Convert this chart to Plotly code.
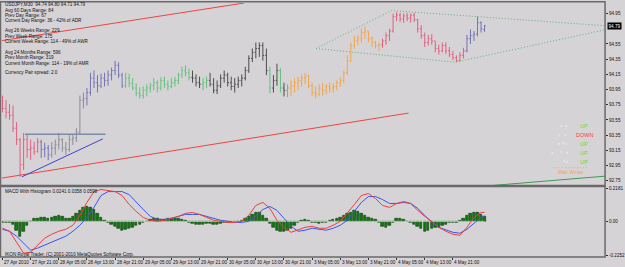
import plotly.graph_objects as go

W, H = 625, 267

# ---------------- data ----------------
symbol_title = "USDJPY,M30  94.74 94.80 94.71 94.79"
info_lines = [
    (symbol_title, 4),
    ("Avg 60 Days Range: 84", 10),
    ("Prev Day Range: 67", 14.7),
    ("Current Day Range: 36 - 42% of ADR", 19.3),
    ("Avg 26 Weeks Range: 229", 30),
    ("Prev Week Range: 175", 35.3),
    ("Current Week Range: 114 - 49% of AWR", 41.3),
    ("Avg 24 Months Range: 596", 52.3),
    ("Prev Month Range: 319", 57),
    ("Current Month Range: 114 - 19% of AMR", 62.7),
    ("Currency Pair spread: 2.0", 72),
]

time_labels = ["27 Apr 2010", "27 Apr 21:00", "28 Apr 05:00", "28 Apr 13:00", "28 Apr 21:00",
               "29 Apr 05:00", "29 Apr 13:00", "29 Apr 21:00", "30 Apr 05:00", "30 Apr 13:00",
               "30 Apr 21:00", "3 May 05:00", "3 May 13:00", "3 May 21:00", "4 May 05:00",
               "4 May 13:00", "4 May 21:00"]
bars_per_label = 8

bar_open = [93.81, 93.70, 93.65, 93.61, 93.44, 93.29, 92.96, 93.29, 93.16, 93.18,
            93.13, 93.26, 93.16, 93.18, 93.09, 93.18, 93.22, 93.29, 93.18, 93.16,
            93.29, 93.31, 93.39, 93.81, 93.83, 93.91, 94.10, 94.04, 94.00, 94.10,
            94.07, 94.14, 94.20, 94.27, 94.14, 94.00, 94.10, 94.03, 93.97, 93.90,
            93.87, 93.94, 93.97, 94.00, 94.04, 93.97, 94.07, 94.02, 93.99, 94.04,
            94.07, 94.14, 94.20, 94.17, 94.11, 94.10, 94.04, 94.02, 94.04, 94.07,
            94.02, 93.94, 94.00, 94.10, 94.14, 94.04, 93.99, 94.02, 94.07, 94.10,
            94.20, 94.36, 94.44, 94.49, 94.53, 94.40, 94.20, 93.97, 94.07, 94.20,
            93.97, 93.94, 93.97, 94.00, 94.04, 94.07, 94.10, 94.12, 94.00, 93.91,
            93.89, 93.97, 93.94, 93.99, 93.97, 93.99, 94.04, 94.07, 94.17, 94.33,
            94.53, 94.59, 94.62, 94.70, 94.72, 94.62, 94.57, 94.53, 94.54, 94.59,
            94.66, 94.72, 94.91, 94.93, 94.88, 94.92, 94.89, 94.93, 94.87, 94.75,
            94.66, 94.57, 94.62, 94.59, 94.49, 94.46, 94.53, 94.46, 94.41, 94.37,
            94.33, 94.40, 94.46, 94.62, 94.66, 94.68, 94.83, 94.74]
bar_high = [93.87, 93.81, 93.76, 93.74, 93.52, 93.31, 93.38, 93.36, 93.29, 93.26,
            93.31, 93.29, 93.25, 93.22, 93.26, 93.29, 93.38, 93.31, 93.26, 93.35,
            93.35, 93.44, 93.87, 93.91, 93.97, 94.17, 94.20, 94.14, 94.16, 94.17,
            94.20, 94.24, 94.33, 94.31, 94.17, 94.17, 94.16, 94.10, 94.03, 93.98,
            93.99, 94.02, 94.04, 94.10, 94.07, 94.11, 94.12, 94.07, 94.10, 94.12,
            94.17, 94.25, 94.27, 94.23, 94.20, 94.15, 94.12, 94.10, 94.12, 94.17,
            94.10, 94.07, 94.15, 94.20, 94.17, 94.12, 94.10, 94.12, 94.15, 94.25,
            94.40, 94.49, 94.57, 94.57, 94.57, 94.49, 94.25, 94.14, 94.29, 94.23,
            94.04, 94.02, 94.07, 94.10, 94.12, 94.15, 94.17, 94.15, 94.04, 93.99,
            94.02, 94.04, 94.02, 94.04, 94.03, 94.07, 94.11, 94.20, 94.40, 94.57,
            94.66, 94.67, 94.75, 94.78, 94.72, 94.65, 94.59, 94.57, 94.62, 94.70,
            94.75, 94.95, 94.97, 94.96, 94.95, 94.96, 94.95, 94.96, 94.88, 94.80,
            94.70, 94.67, 94.68, 94.59, 94.54, 94.57, 94.57, 94.51, 94.46, 94.40,
            94.44, 94.50, 94.67, 94.74, 94.72, 94.91, 94.85, 94.80]
bar_low = [93.65, 93.57, 93.55, 93.39, 93.22, 92.80, 92.89, 93.05, 93.02, 93.09,
           93.12, 93.05, 93.06, 93.02, 93.05, 93.09, 93.16, 93.13, 93.09, 93.13,
           93.22, 93.26, 93.35, 93.70, 93.74, 93.87, 93.97, 93.91, 93.97, 93.99,
           94.00, 94.07, 94.14, 94.10, 93.97, 93.97, 93.98, 93.94, 93.86, 93.83,
           93.83, 93.86, 93.91, 93.94, 93.91, 93.94, 93.97, 93.94, 93.97, 93.99,
           94.02, 94.10, 94.12, 94.07, 94.04, 93.99, 93.97, 93.94, 93.97, 93.99,
           93.90, 93.89, 93.97, 94.04, 93.99, 93.94, 93.91, 93.97, 93.99, 94.07,
           94.17, 94.31, 94.36, 94.38, 94.33, 94.14, 93.90, 93.91, 94.00, 93.91,
           93.86, 93.85, 93.87, 93.91, 93.94, 93.99, 94.02, 93.97, 93.86, 93.83,
           93.86, 93.87, 93.89, 93.91, 93.91, 93.94, 93.99, 94.03, 94.14, 94.31,
           94.49, 94.53, 94.57, 94.62, 94.57, 94.51, 94.49, 94.46, 94.50, 94.54,
           94.59, 94.70, 94.85, 94.84, 94.83, 94.85, 94.83, 94.84, 94.70, 94.62,
           94.51, 94.53, 94.54, 94.44, 94.41, 94.44, 94.42, 94.38, 94.34, 94.31,
           94.32, 94.36, 94.44, 94.55, 94.59, 94.65, 94.70, 94.71]
bar_close = [93.70, 93.65, 93.61, 93.44, 93.29, 92.96, 93.29, 93.16, 93.18, 93.13,
             93.26, 93.16, 93.18, 93.09, 93.18, 93.22, 93.29, 93.18, 93.16, 93.29,
             93.31, 93.39, 93.81, 93.83, 93.91, 94.10, 94.04, 94.00, 94.10, 94.07,
             94.14, 94.20, 94.27, 94.14, 94.00, 94.10, 94.03, 93.97, 93.90, 93.87,
             93.94, 93.97, 94.00, 94.04, 93.97, 94.07, 94.02, 93.99, 94.04, 94.07,
             94.14, 94.20, 94.17, 94.11, 94.10, 94.04, 94.02, 94.04, 94.07, 94.02,
             93.94, 94.00, 94.10, 94.14, 94.04, 93.99, 94.02, 94.07, 94.10, 94.20,
             94.36, 94.44, 94.49, 94.53, 94.40, 94.20, 93.97, 94.07, 94.20, 93.97,
             93.94, 93.97, 94.00, 94.04, 94.07, 94.10, 94.12, 94.00, 93.91, 93.89,
             93.97, 93.94, 93.99, 93.97, 93.99, 94.04, 94.07, 94.17, 94.33, 94.53,
             94.59, 94.62, 94.70, 94.72, 94.62, 94.57, 94.53, 94.54, 94.59, 94.66,
             94.72, 94.91, 94.93, 94.88, 94.92, 94.89, 94.93, 94.87, 94.75, 94.66,
             94.57, 94.62, 94.59, 94.49, 94.46, 94.53, 94.46, 94.41, 94.37, 94.33,
             94.40, 94.46, 94.62, 94.66, 94.68, 94.83, 94.75, 94.79]

# bar colour groups (start bar, end bar exclusive, colour key)
bar_groups = [(0, 11, "pink"), (11, 14, "slate"), (14, 24, "grey"), (24, 35, "slate"),
              (35, 54, "green"), (54, 57, "dark"), (57, 59, "green"), (59, 76, "dark"),
              (76, 77, "green"), (77, 79, "dark"), (79, 80, "green"), (80, 81, "dark"),
              (81, 82, "green"), (82, 108, "orange"), (108, 132, "pink"), (132, 138, "slate")]

macd_main = [-0.046, -0.066, -0.139, -0.212, -0.205, -0.159, -0.112, -0.086, -0.066, -0.053,
             -0.026, 0.040, 0.126, 0.198, 0.212, 0.205, 0.198, 0.172, 0.112, 0.066,
             0.026, 0.007, 0.0, 0.007, 0.020, 0.033, 0.053, 0.059, 0.046, 0.026,
             0.007, 0.0, -0.007, -0.007, 0.0, 0.040, 0.106, 0.126, 0.086, 0.007,
             -0.040, -0.073, -0.059, -0.040, -0.033, -0.046, -0.046, -0.026, 0.0, 0.053,
             0.112, 0.172, 0.185, 0.152, 0.106, 0.093, 0.119, 0.132, 0.119, 0.073,
             0.033, 0.0, -0.040, -0.066, -0.086, -0.093, -0.040, 0.026, 0.059, 0.060]
macd_signal = [-0.053, -0.066, -0.099, -0.145, -0.192, -0.178, -0.159, -0.139, -0.119, -0.099,
               -0.066, -0.026, 0.026, 0.093, 0.172, 0.198, 0.198, 0.198, 0.178, 0.126,
               0.079, 0.033, 0.013, 0.013, 0.020, 0.033, 0.046, 0.046, 0.046, 0.033,
               0.020, 0.007, 0.0, -0.007, -0.007, 0.0, 0.033, 0.079, 0.099, 0.073,
               0.020, -0.033, -0.066, -0.059, -0.046, -0.053, -0.059, -0.046, -0.026, 0.007,
               0.066, 0.126, 0.165, 0.165, 0.145, 0.119, 0.119, 0.126, 0.119, 0.086,
               0.040, -0.007, -0.040, -0.059, -0.073, -0.079, -0.053, -0.013, 0.026, 0.036]
macd_hist = [-0.005, -0.005, -0.005, -0.02, -0.06, -0.10, -0.07, -0.03, 0.0, 0.015,
             0.02, 0.025, 0.025, 0.02, 0.025, 0.03, 0.035, 0.03, 0.02, 0.015,
             0.03, 0.05, 0.07, 0.09, 0.095, 0.09, 0.075, 0.05, 0.025, 0.005,
             -0.005, -0.02, -0.035, -0.05, -0.06, -0.055, -0.05, -0.04, -0.03, -0.02,
             -0.01, 0.0, 0.01, 0.015, 0.015, 0.01, 0.01, 0.015, 0.02, 0.02,
             0.015, 0.01, 0.005, -0.005, -0.015, -0.02, -0.02, -0.02, -0.015, -0.015,
             -0.02, -0.02, -0.015, -0.01, -0.01, -0.01, -0.005, 0.0, 0.005, 0.015,
             0.03, 0.045, 0.06, 0.06, 0.04, 0.015, -0.015, -0.04, -0.06, -0.07,
             -0.07, -0.06, -0.045, -0.03, -0.01, 0.005, 0.01, 0.005, -0.005, -0.01,
             -0.015, -0.01, -0.005, 0.005, 0.01, 0.015, 0.025, 0.04, 0.05, 0.06,
             0.07, 0.065, 0.05, 0.035, 0.025, 0.02, 0.01, -0.01, -0.035, -0.04,
             -0.03, -0.01, 0.015, 0.02, 0.01, 0.0, -0.01, -0.02, -0.035, -0.05,
             -0.065, -0.06, -0.05, -0.04, -0.04, -0.03, -0.02, -0.01, -0.005, -0.005,
             0.005, 0.02, 0.04, 0.05, 0.055, 0.06, 0.045, 0.03]
macd_header = "MACD With Histogram 0.0241 0.0358 0.0598"
copyright_text = "IKON Royal Trader, (C) 2001-2010 MetaQuotes Software Corp."

price_ticks = [94.95, 94.55, 94.35, 94.15, 93.95, 93.75, 93.55, 93.35, 93.15, 92.95, 92.75]
last_price = 94.79
macd_ticks = [0.2181, 0.0, -0.2252]
macd_tick_text = ["0.2181", "0.00", "-0.2252"]

# trend lines: (bar positions, prices)
upper_red_line = ([-0.7, 68.7], [94.59, 95.09])
lower_red_line = ([-0.7, 115.4], [92.78, 93.64])
support_line = ([5.5, 28.5], [92.80, 93.30])
resistance_line = ([6.4, 29.3], [93.36, 93.36])
wedge_upper = ([89.1, 110.6, 171.5], [94.49, 94.99, 94.79])
wedge_lower = ([89.1, 128.7, 171.5], [94.49, 94.31, 94.74])
green_line = ([132.4, 171.5], [92.66, 92.81])
orange_dots = ([156.5, 166.4], [92.92, 92.92])

signal_words = [("UP", "up"), ("DOWN", "down"), ("UP", "up"), ("UP", "up"), ("UP", "up")]
status_text = "Wait Wmas"

# ---------------- styles / layout helpers ----------------
BG = "#d6d3d6"
FRAME = "#6a6a6a"
FONT = "Liberation Sans"
COLORS = {"pink": "#e2607f", "slate": "#7474b4", "grey": "#8c8c9a", "green": "#62c27e",
          "dark": "#4e4e4e", "orange": "#f2a64a"}

PLOT_L, PLOT_R = 2, 607
MAIN_T, MAIN_B = 2, 186
MACD_T, MACD_B = 188, 258
PX_PER_BAR = 3.53
BAR0_PX = 2.5
PX_PER_PRICE = 76.5
PRICE_AT_TICK = 94.95
PRICE_TICK_PX = 12.7
# tiny light marks beside the signal words (pixel positions, decoration)
SIGNAL_DOTS = [(563, 126), (568, 126), (561, 135), (567, 135), (561, 144), (565, 143),
               (568, 144), (554, 153), (563, 152), (569, 153), (566, 161), (569, 162)]


def fx(p):
    return p / W


def fy(p):
    return 1 - p / H


def bar_px(i):
    return BAR0_PX + i * PX_PER_BAR


x_range = [(PLOT_L - BAR0_PX) / PX_PER_BAR, (PLOT_R - BAR0_PX) / PX_PER_BAR]
y_range = [PRICE_AT_TICK - (MAIN_B - PRICE_TICK_PX) / PX_PER_PRICE,
           PRICE_AT_TICK + (PRICE_TICK_PX - MAIN_T) / PX_PER_PRICE]
MACD_ZERO_PX = 222
MACD_PX_PER_UNIT = 33 / 0.2181
macd_range = [-(MACD_B - MACD_ZERO_PX) / MACD_PX_PER_UNIT, (MACD_ZERO_PX - MACD_T) / MACD_PX_PER_UNIT]

n_bars = len(bar_close)
bar_idx = list(range(n_bars))
macd_idx = list(range(0, n_bars - 1, 2)) + [n_bars - 1]

fig = go.Figure()

# price bars
for start, end, key in bar_groups:
    c = COLORS[key]
    fig.add_trace(go.Ohlc(
        x=bar_idx[start:end], open=bar_open[start:end], high=bar_high[start:end],
        low=bar_low[start:end], close=bar_close[start:end],
        increasing=dict(line=dict(color=c, width=1)),
        decreasing=dict(line=dict(color=c, width=1)),
        tickwidth=0.35, xaxis="x", yaxis="y", hoverinfo="skip"))


def add_line(pts, color, width=1, dash="solid", xa="x", ya="y"):
    fig.add_trace(go.Scatter(x=pts[0], y=pts[1], mode="lines",
                             line=dict(color=color, width=width, dash=dash),
                             xaxis=xa, yaxis=ya, hoverinfo="skip", cliponaxis=True))


add_line(upper_red_line, "#ee4444", 1)
add_line(lower_red_line, "#ee4444", 1)
add_line(support_line, "#3c46c8", 1)
add_line(resistance_line, "#7d8aa8", 1.5)
add_line(wedge_upper, "#5fb27a", 1, "1px,2px")
add_line(wedge_lower, "#5fb27a", 1, "1px,2px")
add_line(green_line, "#3f9a55", 1)
add_line(orange_dots, "#f2a64a", 1, "1px,2px")

# MACD panel
fig.add_trace(go.Scatter(x=[bar_idx[0], bar_idx[-1]], y=[0, 0], mode="lines",
                         line=dict(color="#a4d6a4", width=1), xaxis="x2", yaxis="y2",
                         hoverinfo="skip"))
fig.add_trace(go.Bar(x=bar_idx, y=macd_hist, width=0.7, marker=dict(color="#137a13",
                     line=dict(color="#073807", width=0.6)), xaxis="x2", yaxis="y2",
                     hoverinfo="skip"))
fig.add_trace(go.Scatter(x=macd_idx, y=macd_signal, mode="lines",
                         line=dict(color="#3a55f0", width=1), xaxis="x2", yaxis="y2",
                         hoverinfo="skip"))
fig.add_trace(go.Scatter(x=macd_idx, y=macd_main, mode="lines",
                         line=dict(color="#f03c3c", width=1), xaxis="x2", yaxis="y2",
                         hoverinfo="skip"))

axis_common = dict(showgrid=False, zeroline=False, showline=False)
fig.update_layout(
    width=W, height=H, margin=dict(l=0, r=0, t=0, b=0),
    paper_bgcolor=BG, plot_bgcolor=BG, showlegend=False, bargap=0,
    font=dict(family=FONT, size=5, color="#111111"),
    xaxis=dict(domain=[fx(PLOT_L), fx(PLOT_R)], range=x_range, showticklabels=False,
               rangeslider=dict(visible=False), anchor="y", **axis_common),
    yaxis=dict(domain=[fy(MAIN_B), fy(MAIN_T)], range=y_range, side="right",
               tickvals=price_ticks, ticktext=[f"{v:.2f}" for v in price_ticks],
               ticks="outside", ticklen=2, tickcolor="#333333", tickwidth=1,
               tickfont=dict(size=4.6, color="#111111", family=FONT), anchor="x", **axis_common),
    xaxis2=dict(domain=[fx(PLOT_L), fx(PLOT_R)], range=x_range, showticklabels=False,
                tickvals=[k * bars_per_label for k in range(len(time_labels))],
                ticks="outside", ticklen=2, tickcolor="#333333", anchor="y2", **axis_common),
    yaxis2=dict(domain=[fy(MACD_B), fy(MACD_T)], range=macd_range, side="right",
                tickvals=macd_ticks, ticktext=macd_tick_text, ticks="outside", ticklen=2,
                tickcolor="#333333", tickfont=dict(size=4.6, color="#111111", family=FONT),
                anchor="x2", **axis_common),
)

# frames
shapes = [
    dict(type="rect", xref="paper", yref="paper", x0=fx(0.5), x1=fx(PLOT_R), y0=fy(MAIN_B),
         y1=fy(0.8), line=dict(color=FRAME, width=1.5)),
    dict(type="rect", xref="paper", yref="paper", x0=fx(0.5), x1=fx(PLOT_R), y0=fy(MACD_B),
         y1=fy(MACD_T - 1), line=dict(color=FRAME, width=1.5)),
]
for dx, dy in SIGNAL_DOTS:
    shapes.append(dict(type="rect", xref="paper", yref="paper", x0=fx(dx - 0.6), x1=fx(dx + 0.6),
                       y0=fy(dy + 0.6), y1=fy(dy - 0.6), line=dict(width=0),
                       fillcolor="#f6f6f6"))
fig.update_layout(shapes=shapes)

ann = []
for text, ypx in info_lines:
    ann.append(dict(text=text, x=fx(3), y=fy(ypx), xref="paper", yref="paper",
                    xanchor="left", yanchor="middle", showarrow=False,
                    font=dict(size=4.6, color="#111111", family=FONT)))
ann.append(dict(text=macd_header, x=fx(3), y=fy(191.5), xref="paper", yref="paper",
                xanchor="left", yanchor="middle", showarrow=False,
                font=dict(size=4.6, color="#111111", family=FONT)))
ann.append(dict(text=copyright_text, x=fx(3), y=fy(255), xref="paper", yref="paper",
                xanchor="left", yanchor="middle", showarrow=False,
                font=dict(size=4.6, color="#111111", family=FONT)))
for k, lab in enumerate(time_labels):
    ann.append(dict(text=lab, x=fx(bar_px(k * bars_per_label) - 0.5), y=fy(263.5),
                    xref="paper", yref="paper",
                    xanchor="left", yanchor="middle", showarrow=False,
                    font=dict(size=4.6, color="#111111", family=FONT)))
# last price box
ann.append(dict(text=f"{last_price:.2f}", x=fx(PLOT_R + 1.5), y=last_price, xref="paper", yref="y",
                xanchor="left", yanchor="middle", showarrow=False, bgcolor="#000000",
                borderpad=0.5, font=dict(size=4.6, color="#ffffff", family=FONT)))
# signal words
sig_colors = {"up": "#4ee04e", "down": "#ff3a3a"}
for j, (word, kind) in enumerate(signal_words):
    ann.append(dict(text=word, x=fx(586), y=fy(126 + 9 * j), xref="paper", yref="paper",
                    xanchor="center", yanchor="middle", showarrow=False,
                    font=dict(size=5.5, color=sig_colors[kind], family=FONT)))
ann.append(dict(text=status_text, x=fx(573), y=fy(172.5), xref="paper", yref="paper",
                xanchor="center", yanchor="middle", showarrow=False,
                font=dict(size=5, color="#f2a64a", family=FONT)))
fig.update_layout(annotations=ann)

fig.write_html("out.html")
